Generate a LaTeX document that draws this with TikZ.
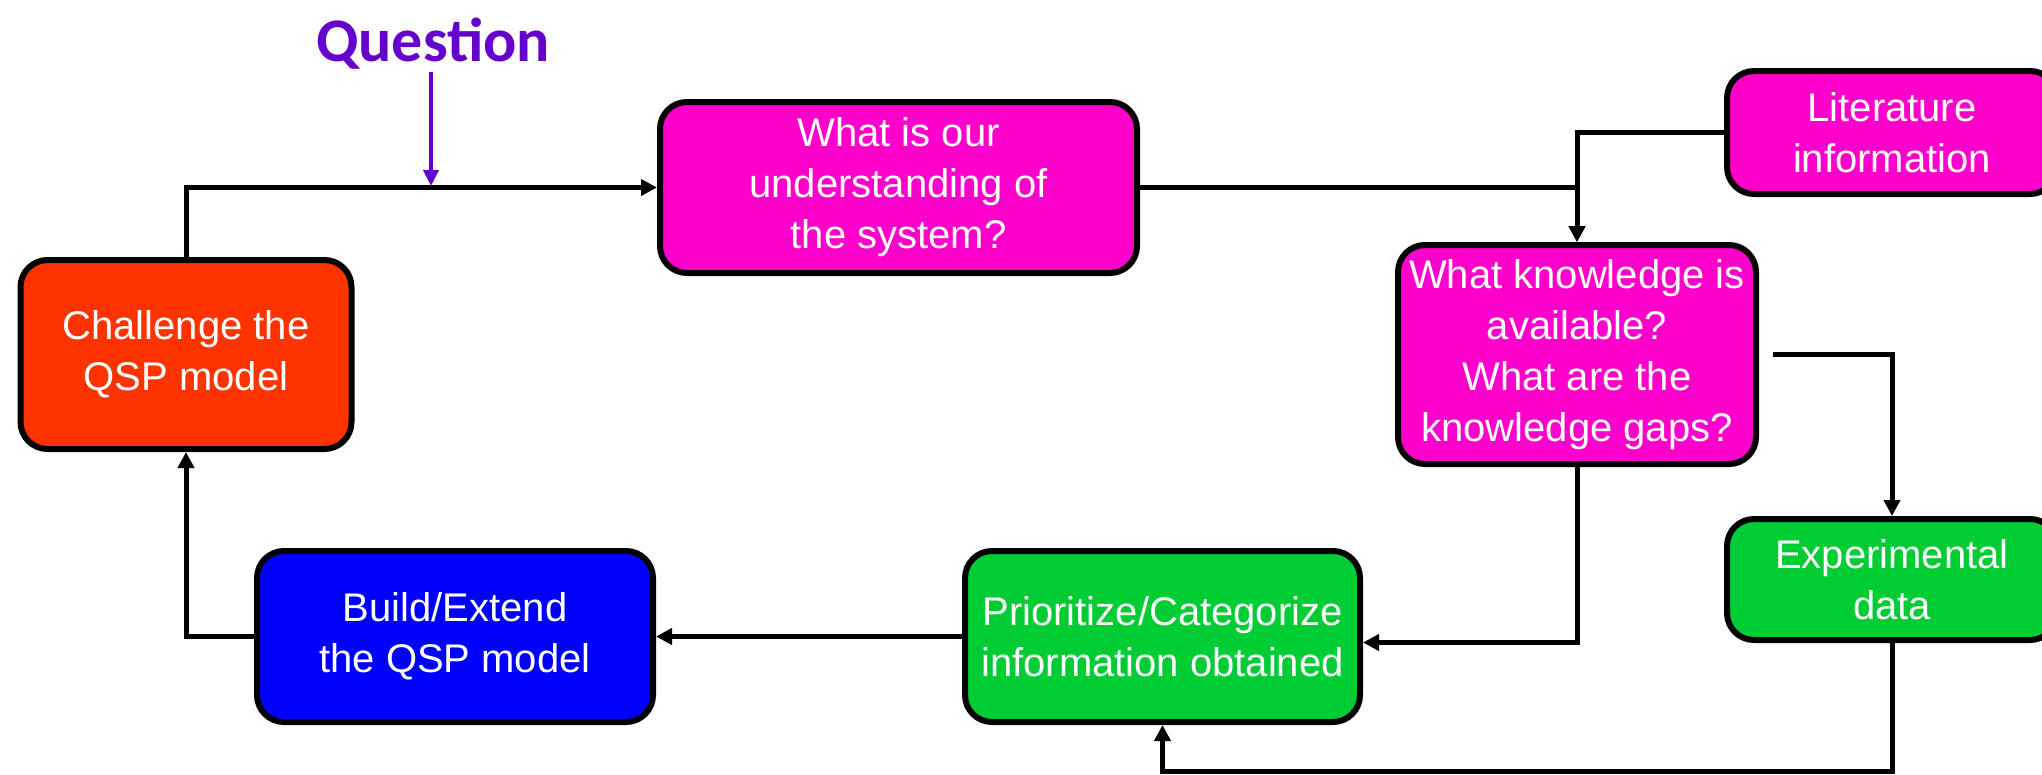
\documentclass[tikz,border=0pt]{standalone}
\usepackage{fontspec}
\setmainfont{Liberation Sans}
\newfontfamily\qfont{Carlito}
\usetikzlibrary{arrows.meta,calc}
\definecolor{qpurple}{RGB}{102,0,204}
\definecolor{bmagenta}{RGB}{255,0,204}
\definecolor{bred}{RGB}{255,51,0}
\definecolor{bblue}{RGB}{0,0,255}
\definecolor{bgreen}{RGB}{0,204,51}
\tikzset{
  box/.style={draw=black, line width=6pt, rounded corners=27pt, text=white,
    align=center, inner sep=2pt, font=\fontsize{40}{51}\selectfont},
  conn/.style={draw=black, line width=5pt},
  arr/.style={conn, -{Triangle[length=16pt,width=16pt]}},
  qarr/.style={draw=qpurple, line width=4.5pt, -{Triangle[length=16pt,width=15pt]}}
}
\begin{document}
\begin{tikzpicture}[x=1pt,y=-1pt]
\useasboundingbox (0,0) rectangle (2042,774);
% boxes
\node[box, fill=bred, minimum width=331pt, minimum height=189pt] (red) at (186,354.5) {Challenge the\\QSP model};
\node[box, fill=bmagenta, minimum width=477pt, minimum height=171pt] (what) at (898.5,187.5) {What is our\\understanding of\\the system?};
\node[box, fill=bmagenta, minimum width=330pt, minimum height=123pt] (lit) at (1892,132.5) {Literature\\information};
\node[box, fill=bmagenta, minimum width=358pt, minimum height=219pt] (kb) at (1577,354.5) {What knowledge is\\available?\\What are the\\knowledge gaps?};
\node[box, fill=bgreen, minimum width=330pt, minimum height=121pt] (exp) at (1892,579.5) {Experimental\\data};
\node[box, fill=bgreen, minimum width=395pt, minimum height=171pt] (prior) at (1162.5,636.5) {Prioritize/Categorize\\information obtained};
\node[box, fill=bblue, minimum width=396pt, minimum height=171pt] (build) at (455,636.5) {Build/Extend\\the QSP model};
% question
\node[anchor=base, text=qpurple, inner sep=0pt, font=\qfont\bfseries\fontsize{62}{70}\selectfont] (question) at (433,61) {Question};
\coordinate (qstart) at (431,72);
\coordinate (qtip) at (431,186);
\draw[qarr] (qstart) -- (qtip);
% connectors
\draw[arr] (red.north) |- (what.west);
\draw[arr] (what.east) -| (kb.north);
\draw[arr] (lit.west) -| (kb.north);
\coordinate (kbout) at (1773,354);
\draw[arr] (kbout) -| (exp.north);
\draw[arr] (kb.south) |- ($(prior.east)+(0,6)$);
\coordinate (ebot) at (1892,771);
\draw[arr] (exp.south) -- (ebot) -| (prior.south);
\draw[arr] (prior.west) -- (build.east);
\draw[arr] (build.west) -| (red.south);
\end{tikzpicture}
\end{document}
